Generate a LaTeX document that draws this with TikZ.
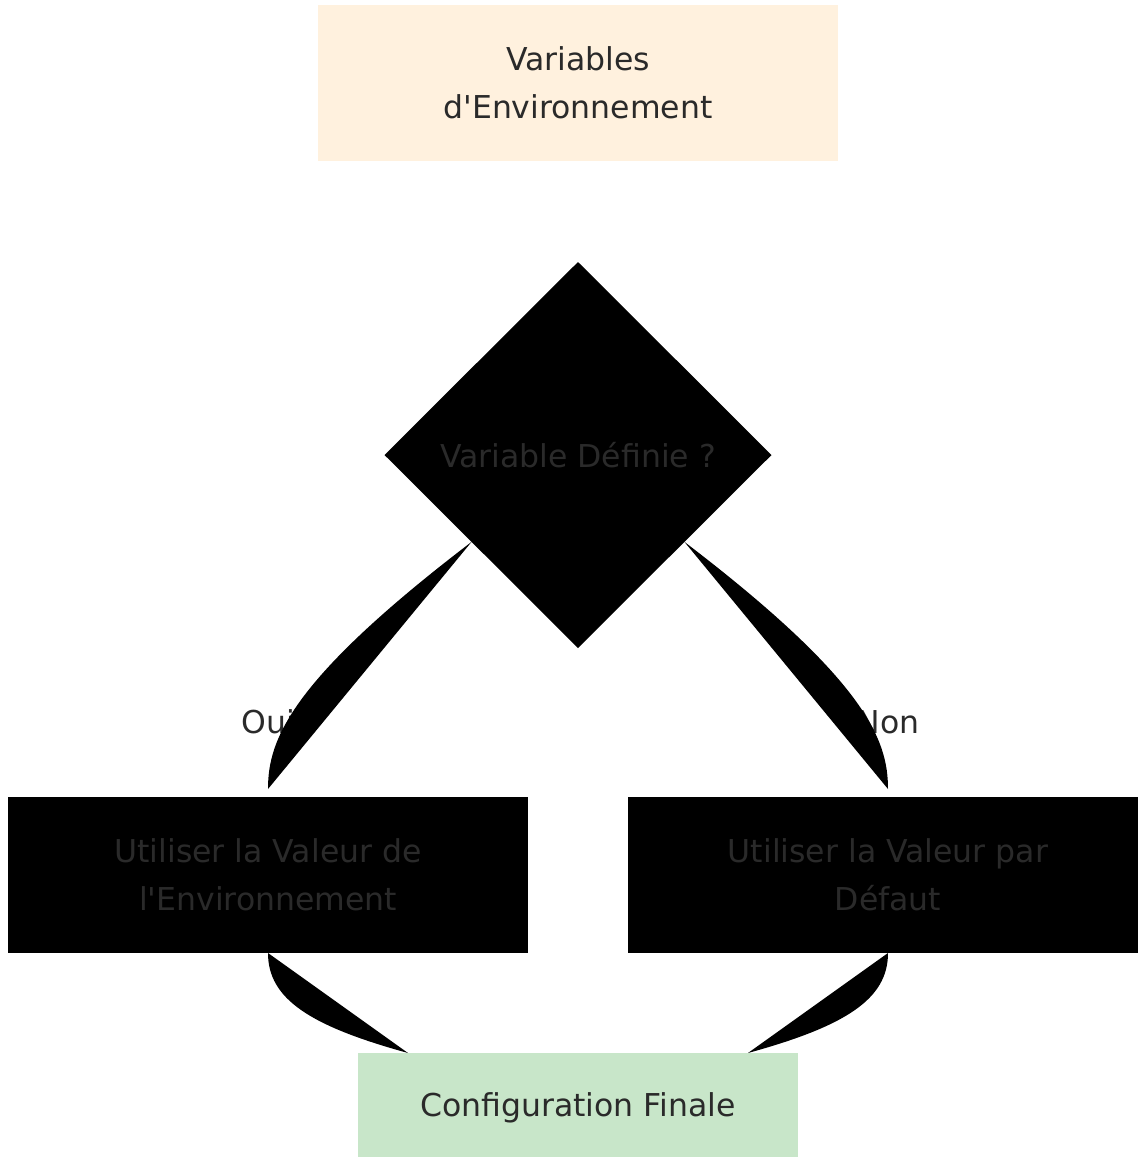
\documentclass[tikz,border=0pt]{standalone}
\usepackage{fontspec}
\setmainfont{DejaVu Sans}[Ligatures=TeXOff]
\usetikzlibrary{shapes.geometric, calc}
\definecolor{envfill}{HTML}{FFF1DE}
\definecolor{finfill}{HTML}{C8E6C9}
\definecolor{txtgray}{HTML}{2A2A2A}
\tikzstyle{box} = [rectangle, minimum width=260pt, minimum height=78pt, inner sep=0pt, outer sep=0pt, align=center, text=txtgray, font=\fontsize{15.75}{24}\selectfont]
\tikzstyle{decision} = [diamond, aspect=1, minimum width=193.5pt, minimum height=193pt, inner sep=0pt, outer sep=0pt, fill=black, text=txtgray, font=\fontsize{15.75}{24}\selectfont]
\tikzstyle{link} = [fill=black]
\tikzstyle{lbl} = [inner sep=0pt, text=txtgray, font=\fontsize{15.75}{24}\selectfont]

\begin{document}
\begin{tikzpicture}[x=0.5pt, y=-0.5pt, node distance=186pt]
    \useasboundingbox (0,0) rectangle (1138,1158);
    \node (env) [box, fill=envfill] at (578,83) {Variables\\d'Environnement};
    \node (dec) [decision, below of=env] {Variable Définie ?};
    \node (lval) [box, fill=black, below of=dec, xshift=-155pt, yshift=-24pt] {Utiliser la Valeur de\\l'Environnement};
    \node (rval) [box, fill=black, below of=dec, xshift=155pt, yshift=-24pt] {Utiliser la Valeur par\\Défaut};
    \node (fin) [box, fill=finfill, minimum width=220pt, minimum height=52pt, text depth=0pt, below of=dec, yshift=-139pt] {Configuration Finale};

    \node (oui) [lbl] at ([yshift=37.5pt]lval.north) {Oui};
    \node (non) [lbl] at ([yshift=37.5pt]rval.north) {Non};

    \fill[link] ($(dec.west)!0.45!(dec.south)$) .. controls +(-182,139) and +(0,-49) .. ([yshift=4pt]lval.north) -- cycle;
    \fill[link] ($(dec.east)!0.45!(dec.south)$) .. controls +(182,139) and +(0,-49) .. ([yshift=4pt]rval.north) -- cycle;
    \fill[link] (lval.south) .. controls +(0,46) and +(-98,-27) .. ([xshift=25pt]fin.north west) -- cycle;
    \fill[link] (rval.south) .. controls +(0,46) and +(98,-27) .. ([xshift=-25pt]fin.north east) -- cycle;
\end{tikzpicture}
\end{document}
